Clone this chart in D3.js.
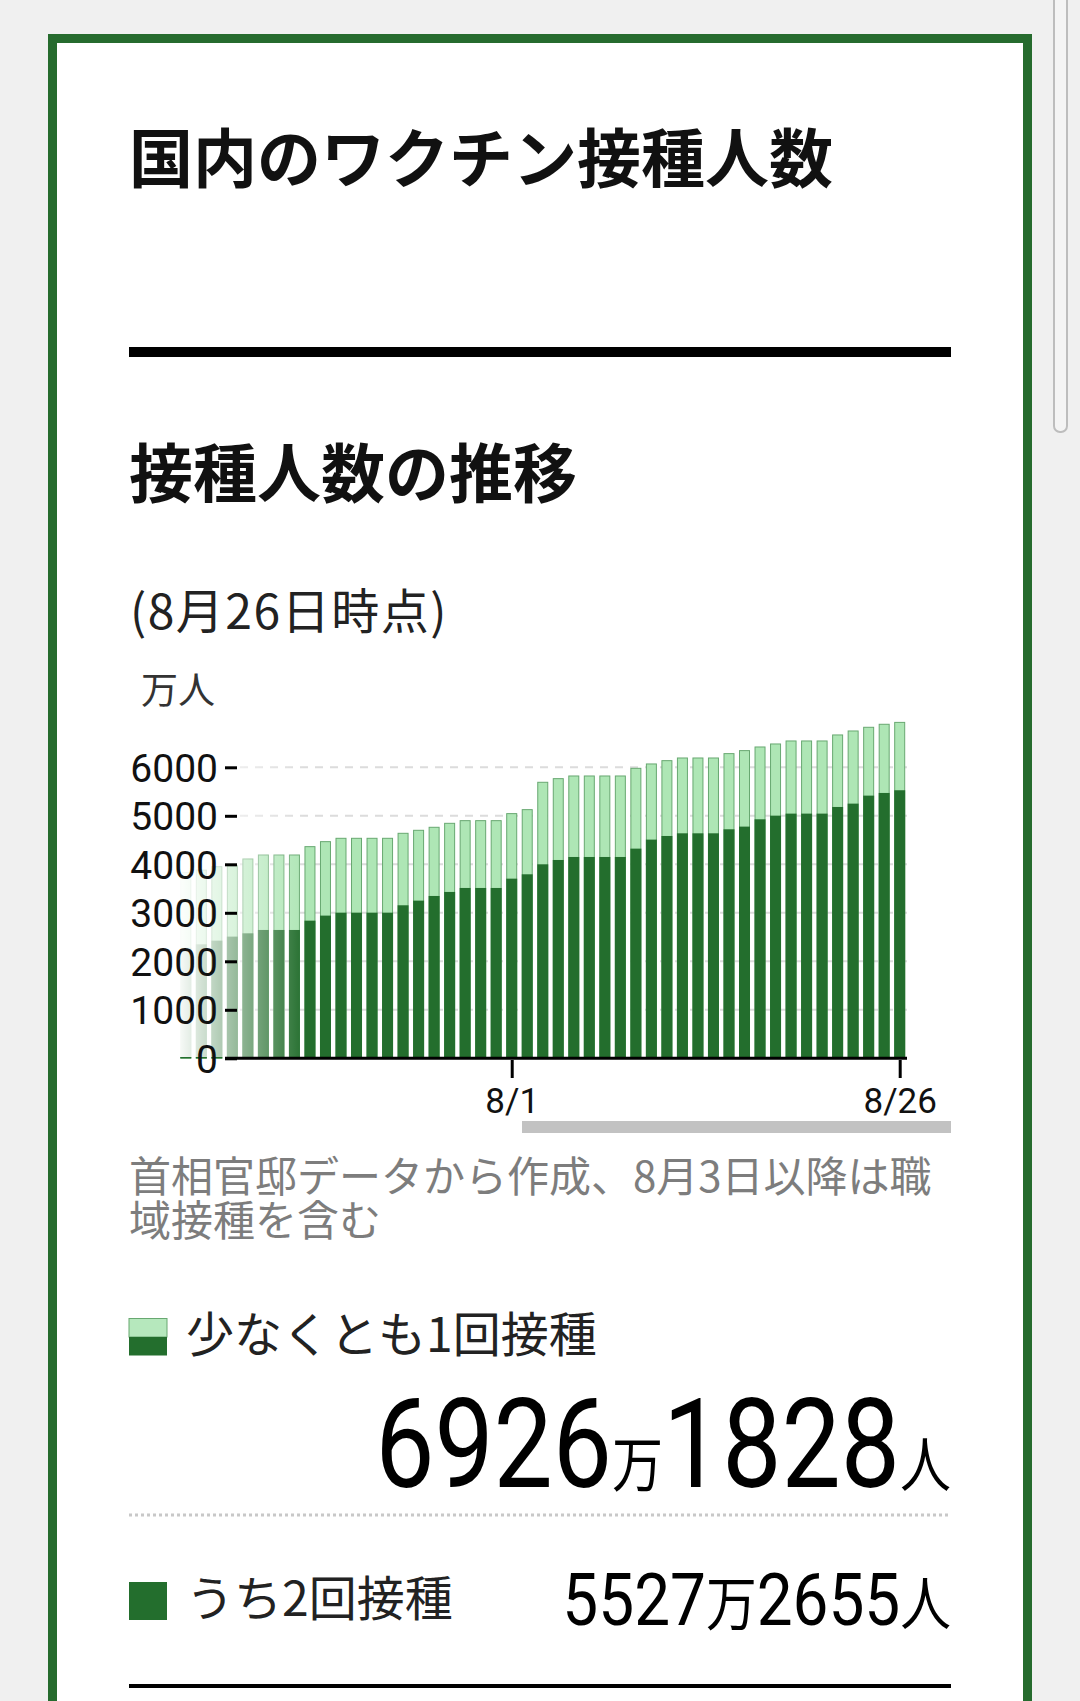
<!DOCTYPE html>
<html>
<head>
<meta charset="utf-8">
<script src="https://cdn.jsdelivr.net/npm/d3@7"></script>
<style>
  html, body { margin: 0; padding: 0; background: #f0f0f0; overflow: hidden; }
  svg { display: block; }
  .jp { font-family: "Noto Sans CJK JP", "Noto Sans", sans-serif; }
  .num { font-family: Roboto, "Liberation Sans", sans-serif; }
</style>
</head>
<body>
<script>
// chart data (万人), 2021
var dates = ["7/11","7/12","7/13","7/14","7/15","7/16","7/17","7/18","7/19","7/20",
             "7/21","7/22","7/23","7/24","7/25","7/26","7/27","7/28","7/29","7/30",
             "7/31","8/1","8/2","8/3","8/4","8/5","8/6","8/7","8/8","8/9",
             "8/10","8/11","8/12","8/13","8/14","8/15","8/16","8/17","8/18","8/19",
             "8/20","8/21","8/22","8/23","8/24","8/25","8/26"];
var atLeastOnce = [3830,3880,3950,3970,4110,4192,4192,4192,4364,4467,
                   4536,4536,4536,4536,4639,4701,4763,4845,4900,4900,
                   4900,5045,5127,5691,5766,5821,5821,5821,5821,5979,
                   6069,6137,6192,6192,6192,6282,6344,6419,6481,6543,
                   6543,6543,6667,6749,6825,6887,6926];
var twoDoses = [2280,2350,2426,2509,2577,2646,2646,2646,2838,2942,
                3003,3003,3003,3003,3155,3251,3347,3430,3512,3512,
                3512,3704,3794,4000,4089,4151,4151,4151,4151,4323,
                4509,4584,4639,4639,4639,4722,4777,4928,5003,5045,
                5045,5045,5182,5251,5416,5471,5527];
var yTicks = [0,1000,2000,3000,4000,5000,6000];
var xTickDates = ["8/1","8/26"];

// totals shown under the chart
var totalOnce = ["6926","万","1828","人"];
var totalTwice = ["5527","万","2655","人"];

var lightGreen = "#aee6b5";
var lightStroke = "#68a871";
var darkGreen = "#236e2d";
var frameGreen = "#266b2e";

var parseDate = function(s) { return d3.timeParse("%Y/%m/%d")("2021/" + s); };
var rows = dates.map(function(d, i) {
    return { date: parseDate(d), once: atLeastOnce[i], twice: twoDoses[i] };
});

var svg = d3.select("body").append("svg").attr("width", 1080).attr("height", 1701);

// page background + browser scrollbar thumb
svg.append("rect").attr("width", 1080).attr("height", 1701).attr("fill", "#f0f0f0");
svg.append("rect")
    .attr("x", 1054).attr("y", -20).attr("width", 13).attr("height", 452).attr("rx", 6)
    .attr("fill", "#f4f4f4").attr("stroke", "#bdbdbd").attr("stroke-width", 2);

// card
svg.append("rect")
    .attr("x", 52.5).attr("y", 38.5).attr("width", 975).attr("height", 1760)
    .attr("fill", "#fff").attr("stroke", frameGreen).attr("stroke-width", 9);

svg.append("text").attr("class", "jp")
    .attr("x", 129).attr("y", 182)
    .style("font-size", "64px").style("font-weight", "700").attr("fill", "#111")
    .text("国内のワクチン接種人数");

svg.append("rect").attr("x", 129).attr("y", 347).attr("width", 822).attr("height", 10).attr("fill", "#000");

svg.append("text").attr("class", "jp")
    .attr("x", 129).attr("y", 497)
    .style("font-size", "64px").style("font-weight", "700").attr("fill", "#111")
    .text("接種人数の推移");

svg.append("text").attr("class", "jp")
    .attr("x", 130).attr("y", 629)
    .style("font-size", "48px").style("letter-spacing", "1.5px").attr("fill", "#222")
    .text("(8月26日時点)");

svg.append("text").attr("class", "jp")
    .attr("x", 141).attr("y", 704)
    .style("font-size", "37px").attr("fill", "#333")
    .text("万人");

// scales
var x = d3.scaleTime()
    .domain([rows[0].date, rows[rows.length - 1].date])
    .range([185.8, 899.7]);
var y = d3.scaleLinear().domain([0, 6000]).range([1058.3, 767.3]);
var barW = 10;

var chart = svg.append("g");

// dashed gridlines
chart.selectAll("line.grid")
    .data(yTicks.filter(function(t) { return t > 0; }))
    .enter().append("line")
    .attr("x1", 240).attr("x2", 907)
    .attr("y1", function(d) { return y(d); })
    .attr("y2", function(d) { return y(d); })
    .attr("stroke", "#dcdcdc").attr("stroke-width", 2)
    .attr("stroke-dasharray", "8,7");

// at least once (light) behind, two doses (dark) in front
chart.selectAll("rect.once")
    .data(rows)
    .enter().append("rect")
    .attr("x", function(d) { return x(d.date) - barW / 2; })
    .attr("y", function(d) { return y(d.once); })
    .attr("width", barW)
    .attr("height", function(d) { return y(0) - y(d.once); })
    .attr("fill", lightGreen)
    .attr("stroke", lightStroke).attr("stroke-width", 1);

chart.selectAll("rect.twice")
    .data(rows)
    .enter().append("rect")
    .attr("x", function(d) { return x(d.date) - barW / 2 - 0.5; })
    .attr("y", function(d) { return y(d.twice); })
    .attr("width", barW + 1)
    .attr("height", function(d) { return y(0) - y(d.twice); })
    .attr("fill", darkGreen);

// white fade on the left edge of the scroll area
var defs = svg.append("defs");
var fade = defs.append("linearGradient").attr("id", "fade")
    .attr("gradientUnits", "userSpaceOnUse")
    .attr("x1", 175).attr("x2", 305).attr("y1", 0).attr("y2", 0);
fade.append("stop").attr("offset", 0).attr("stop-color", "#fff").attr("stop-opacity", 1);
fade.append("stop").attr("offset", 1).attr("stop-color", "#fff").attr("stop-opacity", 0);
svg.append("rect").attr("x", 60).attr("y", 730).attr("width", 245).attr("height", 327)
    .attr("fill", "url(#fade)");

// baseline
svg.append("line")
    .attr("x1", 225).attr("x2", 907)
    .attr("y1", y(0)).attr("y2", y(0))
    .attr("stroke", "#000").attr("stroke-width", 3);

// y axis
var yAxis = svg.append("g")
    .attr("transform", "translate(237,0)")
    .call(d3.axisLeft(y).tickValues(yTicks).tickSize(12).tickPadding(7).tickFormat(d3.format("d")));
yAxis.select(".domain").remove();
yAxis.selectAll(".tick line").attr("stroke", "#000").attr("stroke-width", 3);
yAxis.selectAll(".tick text")
    .style("font-family", "Roboto, sans-serif").style("font-size", "39px")
    .attr("fill", "#111").attr("dy", "0.36em");

// x axis
var xAxis = svg.append("g")
    .attr("transform", "translate(0,1060)")
    .call(d3.axisBottom(x).tickValues(xTickDates.map(parseDate))
        .tickSize(18).tickPadding(10).tickFormat(d3.timeFormat("%-m/%-d")));
xAxis.select(".domain").remove();
xAxis.selectAll(".tick line").attr("stroke", "#000").attr("stroke-width", 3);
xAxis.selectAll(".tick text")
    .style("font-family", "Roboto, sans-serif").style("font-size", "35px")
    .attr("fill", "#111");

// scroll indicator
svg.append("rect").attr("x", 522).attr("y", 1121).attr("width", 429).attr("height", 12)
    .attr("fill", "#c2c2c2");

// source note
var note = svg.append("text").attr("class", "jp")
    .style("font-size", "42px").attr("fill", "#7d7d7d");
note.append("tspan").attr("x", 129).attr("y", 1192).text("首相官邸データから作成、8月3日以降は職");
note.append("tspan").attr("x", 129).attr("y", 1236).text("域接種を含む");

// legend 1
svg.append("rect").attr("x", 129).attr("y", 1318.5).attr("width", 38).attr("height", 18.5)
    .attr("fill", "#b6e8bd").attr("stroke", lightStroke).attr("stroke-width", 1);
svg.append("rect").attr("x", 129).attr("y", 1337).attr("width", 38).attr("height", 18.5)
    .attr("fill", darkGreen);
svg.append("text").attr("class", "jp")
    .attr("x", 186).attr("y", 1352)
    .style("font-size", "48px").attr("fill", "#222")
    .text("少なくとも1回接種");

// condensed figures, right aligned to the rule
var big = svg.append("g").attr("transform", "translate(951,1487) scale(0.85,1)")
    .append("text").attr("text-anchor", "end").attr("fill", "#000");
totalOnce.forEach(function(s, i) {
    big.append("tspan")
        .attr("class", i % 2 ? "jp" : "num")
        .style("font-size", i % 2 ? "60px" : "124px")
        .text(s);
});

svg.append("line").attr("x1", 129).attr("x2", 951).attr("y1", 1515).attr("y2", 1515)
    .attr("stroke", "#c8c8c8").attr("stroke-width", 3).attr("stroke-dasharray", "3,3");

// legend 2
svg.append("rect").attr("x", 129).attr("y", 1582).attr("width", 38).attr("height", 38)
    .attr("fill", darkGreen);
svg.append("text").attr("class", "jp")
    .attr("x", 186).attr("y", 1616)
    .style("font-size", "48px").attr("fill", "#222")
    .text("うち2回接種");

var small = svg.append("g").attr("transform", "translate(951,1625) scale(0.875,1)")
    .append("text").attr("text-anchor", "end").attr("fill", "#000");
totalTwice.forEach(function(s, i) {
    small.append("tspan")
        .attr("class", i % 2 ? "jp" : "num")
        .style("font-size", i % 2 ? "58px" : "73px")
        .text(s);
});

svg.append("rect").attr("x", 129).attr("y", 1684).attr("width", 822).attr("height", 4).attr("fill", "#000");
</script>
</body>
</html>
